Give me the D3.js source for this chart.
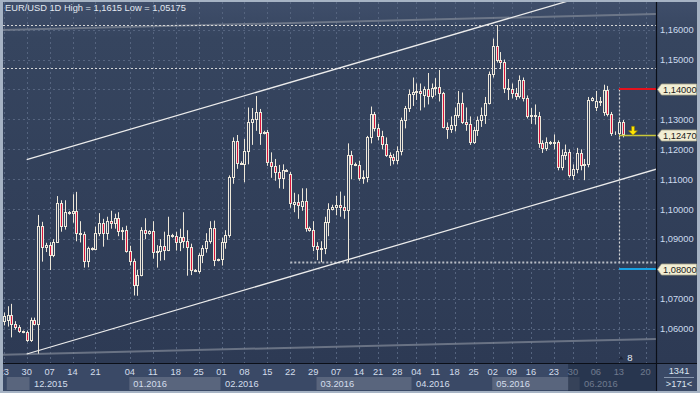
<!DOCTYPE html>
<html><head><meta charset="utf-8">
<script src="https://cdn.jsdelivr.net/npm/d3@7"></script>
<style>html,body{margin:0;padding:0;background:#a6b3c4;}svg{display:block;font-family:"Liberation Sans",Arial,sans-serif;}</style>
</head><body><svg id="c" width="700" height="393"></svg>
<script>
// ---- data (one entry per daily candle, 23.11.2015 .. 14.06.2016) ----
const opens = [
1.0626,1.0630,1.0647,1.0618,1.0607,1.0592,1.0589,1.0564,1.0630,1.0616,
1.0945,1.0873,1.0882,1.0846,1.0892,1.1020,1.0945,1.0990,1.0986,1.0995,
1.0922,1.0916,1.0827,1.0870,1.0866,1.0920,1.0953,1.0920,1.0962,1.0955,
1.0970,1.0928,1.0932,1.0862,1.0828,1.0748,1.0780,1.0932,1.0922,1.0926,
1.0856,1.0860,1.0876,1.0865,1.0915,1.0910,1.0890,1.0908,1.0893,1.0875,
1.0797,1.0795,1.0847,1.0869,1.0894,1.0938,1.0832,1.0833,1.0890,1.0915,
1.1108,1.1228,1.1155,1.1152,1.1195,1.1290,1.1300,1.1325,1.1255,1.1258,
1.1157,1.1145,1.1125,1.1103,1.1130,1.1117,1.1018,1.1025,1.1012,1.1028,
1.0937,1.0930,1.0877,1.0866,1.0869,1.0958,1.1000,1.1008,1.1013,1.1008,
1.0996,1.1180,1.1152,1.1148,1.1103,1.1109,1.1240,1.1318,1.1272,1.1243,
1.1218,1.1180,1.1176,1.1166,1.1196,1.1298,1.1338,1.1385,1.1390,1.1396,
1.1383,1.1400,1.1378,1.1405,1.1408,1.1388,1.1275,1.1268,1.1282,1.1315,
1.1355,1.1290,1.1285,1.1223,1.1265,1.1298,1.1316,1.1355,1.1452,1.1544,
1.1500,1.1492,1.1405,1.1402,1.1387,1.1378,1.1430,1.1372,1.1310,1.1315,
1.1310,1.1220,1.1204,1.1225,1.1220,1.1223,1.1140,1.1180,1.1192,1.1115,
1.1133,1.1188,1.1148,1.1152,1.1366,1.1340,1.1360,1.1325,1.1398,1.1318,
1.1253,1.1255,1.1292];
const highs = [
1.0655,1.0676,1.0684,1.0626,1.0613,1.0595,1.0595,1.0638,1.0638,1.0981,
1.0958,1.0888,1.0890,1.0900,1.1044,1.1030,1.1030,1.0994,1.1050,1.1058,
1.0960,1.0925,1.0875,1.0873,1.0942,1.0987,1.0968,1.0975,1.0995,1.0985,
1.0990,1.0940,1.0945,1.0878,1.0835,1.0798,1.0940,1.0970,1.0930,1.0960,
1.0880,1.0900,1.0925,1.0975,1.0918,1.0925,1.0935,1.0990,1.0930,1.0885,
1.0800,1.0853,1.0880,1.0920,1.0960,1.0962,1.0835,1.0905,1.0930,1.1113,
1.1240,1.1248,1.1160,1.1235,1.1340,1.1338,1.1378,1.1335,1.1262,1.1265,
1.1190,1.1168,1.1148,1.1150,1.1134,1.1125,1.1055,1.1050,1.1070,1.1070,
1.0942,1.0960,1.0890,1.0893,1.0975,1.1020,1.1015,1.1045,1.1059,1.1045,
1.1220,1.1195,1.1156,1.1162,1.1130,1.1245,1.1343,1.1325,1.1285,1.1262,
1.1240,1.1190,1.1185,1.1210,1.1306,1.1345,1.1400,1.1440,1.1420,1.1420,
1.1410,1.1455,1.1420,1.1438,1.1465,1.1392,1.1290,1.1310,1.1340,1.1395,
1.1390,1.1340,1.1310,1.1275,1.1310,1.1340,1.1375,1.1460,1.1570,1.1615,
1.1525,1.1500,1.1435,1.1420,1.1405,1.1447,1.1440,1.1380,1.1338,1.1350,
1.1325,1.1230,1.1240,1.1228,1.1250,1.1230,1.1200,1.1216,1.1200,1.1150,
1.1205,1.1200,1.1168,1.1375,1.1375,1.1395,1.1375,1.1416,1.1412,1.1325,
1.1260,1.1298,1.1298];
const lows = [
1.0612,1.0608,1.0572,1.0598,1.0587,1.0586,1.0557,1.0557,1.0612,1.05175,
1.0825,1.0857,1.0797,1.0840,1.0888,1.0925,1.0932,1.0982,1.0955,1.0893,
1.0889,1.0805,1.0806,1.0862,1.0863,1.0910,1.0875,1.0898,1.0935,1.0935,
1.0910,1.0897,1.0855,1.0812,1.0712,1.0711,1.0776,1.0900,1.0915,1.0835,
1.0805,1.0828,1.0830,1.0860,1.0905,1.0862,1.0860,1.0870,1.0778,1.0780,
1.0790,1.0785,1.0820,1.0855,1.0885,1.0810,1.0826,1.0812,1.0868,1.0905,
1.1085,1.1135,1.1148,1.1090,1.1150,1.1215,1.1262,1.1215,1.1250,1.1145,
1.1105,1.1095,1.1070,1.1068,1.1125,1.1005,1.0990,1.0968,1.0995,1.0925,
1.0925,1.0860,1.0830,1.0823,1.0850,1.0910,1.0996,1.0980,1.0975,1.0968,
1.0822,1.1100,1.1144,1.1095,1.1085,1.1090,1.1220,1.1260,1.1230,1.1200,
1.1175,1.1145,1.1150,1.1150,1.1180,1.1270,1.1325,1.1345,1.1365,1.1330,
1.1340,1.1350,1.1370,1.1380,1.1360,1.1270,1.1235,1.1255,1.1260,1.1305,
1.1285,1.1262,1.1215,1.1218,1.1245,1.1275,1.1285,1.1350,1.1440,1.1490,
1.1468,1.1388,1.1365,1.1370,1.1365,1.1370,1.1360,1.1303,1.1285,1.1283,
1.1205,1.1188,1.1195,1.1215,1.1200,1.1130,1.1130,1.1165,1.1106,1.1098,
1.1120,1.1130,1.1097,1.1140,1.1360,1.1328,1.1345,1.1312,1.1310,1.1245,
1.1248,1.1240,1.1240];
const closes = [
1.0643,1.0647,1.0618,1.0607,1.0593,1.0589,1.0564,1.0630,1.0616,1.0945,
1.0873,1.0882,1.0846,1.0892,1.1020,1.0945,1.0990,1.0986,1.0995,1.0922,
1.0916,1.0827,1.0870,1.0866,1.0920,1.0953,1.0920,1.0962,1.0955,1.0970,
1.0928,1.0932,1.0862,1.0828,1.0748,1.0780,1.0932,1.0922,1.0926,1.0856,
1.0860,1.0876,1.0865,1.0915,1.0910,1.0890,1.0908,1.0893,1.0875,1.0797,
1.0795,1.0847,1.0869,1.0894,1.0938,1.0832,1.0833,1.0890,1.0915,1.1108,
1.1228,1.1155,1.1152,1.1195,1.1290,1.1300,1.1325,1.1255,1.1258,1.1157,
1.1145,1.1125,1.1103,1.1130,1.1128,1.1020,1.1025,1.1014,1.1028,1.0937,
1.0930,1.0877,1.0866,1.0869,1.0958,1.1000,1.1008,1.1013,1.1008,1.0996,
1.1180,1.1152,1.1148,1.1106,1.1109,1.1240,1.1318,1.1272,1.1243,1.1218,
1.1180,1.1176,1.1166,1.1196,1.1298,1.1338,1.1385,1.1390,1.1396,1.1387,
1.1400,1.1378,1.1405,1.1408,1.1388,1.1275,1.1268,1.1282,1.1315,1.1355,
1.1290,1.1285,1.1223,1.1265,1.1298,1.1316,1.1355,1.1452,1.1544,1.1500,
1.1492,1.1405,1.1402,1.1387,1.1378,1.1430,1.1372,1.1310,1.1315,1.1310,
1.1220,1.1204,1.1225,1.1220,1.1223,1.1140,1.1180,1.1192,1.1115,1.1133,
1.1188,1.1148,1.1152,1.1366,1.1370,1.1360,1.1357,1.1398,1.1318,1.1253,
1.1255,1.1292,1.1252];

// axis ticks
const priceTicks = [1.06,1.07,1.08,1.09,1.10,1.11,1.12,1.13,1.14,1.15,1.16];
const dayLabels = ["23","30","07","14","21","04","11","18","25","01","08","15","22","29","07","14","21","28","04","11","18","25","02","09","16","23","30","06","13","20"];
const dayIndex  = [0,6,12,18,24,33,39,45,51,57,63,69,75,81,87,93,98,103,108,113,118,123,128,133,138,144,149,155,161,168];
const monthLabels = ["12.2015","01.2016","02.2016","03.2016","04.2016","05.2016","06.2016"];
const monthStart  = [7,33,57,82,107,128,151];

// drawn studies (index, price)
const channelUpper = [[6,1.11661],[171,1.17824]];
const channelLower = [[6,1.05165],[171,1.11347]];
const grayTop      = [[-1,1.15983],[171,1.16521]];
const grayBottom   = [[-1,1.05138],[171,1.05669]];
const dotHigh = 1.1615, dotMid = 1.1471, dotLow = 1.0823, dotLowFrom = 75;
const markerIndex = 161;
const levelResist = 1.14, levelPrice = 1.1247, levelSupport = 1.08;
const title = "EUR/USD 1D High = 1,1615 Low = 1,05175";
const barCount = "1341", barVisible = ">171<", markerLabel = "8";

// ---- drawing ----
const svg = d3.select("#c");
const P = {l:3, r:656, t:2, b:363};
const x = d3.scaleLinear().domain([0,162]).range([3.78, 622.62]);
const y = d3.scaleLinear().domain([1.06,1.16]).range([329, 29.6]);
const fmt5 = v => d3.format(".5f")(v).replace(".", ",");

const defs = svg.append("defs");
const g1 = defs.append("linearGradient").attr("id","bg").attr("gradientUnits","userSpaceOnUse")
  .attr("x1",0).attr("y1",P.t).attr("x2",0).attr("y2",P.b);
g1.append("stop").attr("offset","0").attr("stop-color","#3f4e6a");
g1.append("stop").attr("offset","0.1").attr("stop-color","#36455f");
g1.append("stop").attr("offset","1").attr("stop-color","#2d3a54");
defs.append("clipPath").attr("id","plotclip").append("rect")
  .attr("x",P.l).attr("y",P.t).attr("width",P.r-P.l).attr("height",P.b-P.t);
defs.append("clipPath").attr("id","axclip").append("rect")
  .attr("x",P.l).attr("y",P.b).attr("width",P.r-P.l).attr("height",30);

svg.append("rect").attr("width",700).attr("height",393).attr("fill","#a6b3c4");
svg.append("rect").attr("x",P.l).attr("y",P.t).attr("width",697-P.l).attr("height",P.b-P.t).attr("fill","url(#bg)");
svg.append("rect").attr("x",P.l).attr("y",P.b).attr("width",697-P.l).attr("height",391-P.b).attr("fill","#3a4966");

const plot = svg.append("g").attr("clip-path","url(#plotclip)");
// grid
plot.selectAll("line.hg").data(priceTicks).join("line")
  .attr("x1",P.l).attr("x2",P.r).attr("y1",d=>Math.round(y(d))+0.5).attr("y2",d=>Math.round(y(d))+0.5)
  .attr("stroke","#55647f").attr("stroke-dasharray","2,3");
plot.selectAll("line.vg").data(dayIndex).join("line")
  .attr("x1",d=>Math.round(x(d))+0.5).attr("x2",d=>Math.round(x(d))+0.5).attr("y1",P.t).attr("y2",P.b)
  .attr("stroke","#55647f").attr("stroke-dasharray","2,3");

const ln = d3.line().x(d=>x(d[0])).y(d=>y(d[1]));
plot.append("path").attr("d",ln(grayTop)).attr("stroke","#7d8594").attr("stroke-opacity",0.75).attr("stroke-width",2).attr("fill","none");
plot.append("path").attr("d",ln(grayBottom)).attr("stroke","#7d8594").attr("stroke-opacity",0.75).attr("stroke-width",2).attr("fill","none");

// dotted levels
const dot = (x1,x2,y1,y2) => plot.append("line").attr("x1",x1).attr("x2",x2).attr("y1",y1).attr("y2",y2)
  .attr("stroke","#d6d6d6").attr("stroke-width",1.2).attr("stroke-dasharray","2,2");
dot(P.l,P.r,Math.round(y(dotHigh))+0.5,Math.round(y(dotHigh))+0.5);
dot(P.l,P.r,Math.round(y(dotMid))+0.5,Math.round(y(dotMid))+0.5);
dot(x(dotLowFrom),P.r,Math.round(y(dotLow))+0.5,Math.round(y(dotLow))+0.5).attr("stroke-width",2).attr("stroke","#b8bcc4");
dot(Math.round(x(markerIndex))+0.5,Math.round(x(markerIndex))+0.5,y(levelResist),y(dotLow));

plot.append("path").attr("d",ln(channelUpper)).attr("stroke","#ececec").attr("stroke-width",1.3).attr("fill","none");
plot.append("path").attr("d",ln(channelLower)).attr("stroke","#ececec").attr("stroke-width",1.3).attr("fill","none");

// candles
const idx = d3.range(opens.length);
const cg = plot.append("g");
cg.selectAll("line.w").data(idx).join("line")
  .attr("x1",i=>Math.round(x(i))+0.5).attr("x2",i=>Math.round(x(i))+0.5)
  .attr("y1",i=>y(highs[i])).attr("y2",i=>y(lows[i]))
  .attr("stroke","#ede7d9").attr("stroke-width",1);
cg.selectAll("rect.b").data(idx).join("rect")
  .attr("x",i=>Math.round(x(i))-0.5).attr("width",2)
  .attr("y",i=>Math.round(y(Math.max(opens[i],closes[i])))+0.5)
  .attr("height",i=>Math.max(0,Math.round(y(Math.min(opens[i],closes[i])))-Math.round(y(Math.max(opens[i],closes[i])))))
  .attr("fill",i=>closes[i]<opens[i]?"#d8143c":"#34425e")
  .attr("stroke","#ede7d9").attr("stroke-width",1);

// level lines
const lx1 = Math.round(x(markerIndex));
plot.append("line").attr("x1",lx1).attr("x2",P.r).attr("y1",Math.round(y(levelResist))).attr("y2",Math.round(y(levelResist))).attr("stroke","#e4121e").attr("stroke-width",2);
plot.append("line").attr("x1",lx1).attr("x2",P.r).attr("y1",Math.round(y(levelPrice))+0.5).attr("y2",Math.round(y(levelPrice))+0.5).attr("stroke","#c9c83a").attr("stroke-width",1.5);
plot.append("line").attr("x1",lx1).attr("x2",P.r).attr("y1",Math.round(y(levelSupport))).attr("y2",Math.round(y(levelSupport))).attr("stroke","#1aa2e2").attr("stroke-width",2);
// down arrow
const ay = y(levelPrice), ax = lx1 + 14;
plot.append("path")
  .attr("d",`M${ax-1.5},${ay-9} h3 v4.5 h3 l-4.5,4.5 l-4.5,-4.5 h3 z`)
  .attr("fill","#ffe400").attr("stroke","#8a7a00").attr("stroke-width",0.6);

// marker bottom
plot.append("path").attr("d",`M${lx1+2},${P.b-7} l2.5,3.5 h-5 z`).attr("fill","#1c2438");
plot.append("text").attr("x",lx1+11).attr("y",P.b-2).attr("text-anchor","middle").attr("fill","#e8eef6").attr("font-size",9.5).text(markerLabel);

// separators
svg.append("line").attr("x1",P.l).attr("x2",697).attr("y1",P.b+0.5).attr("y2",P.b+0.5).attr("stroke","#0b0f18").attr("stroke-width",1.2);
svg.append("line").attr("x1",P.r+0.5).attr("x2",P.r+0.5).attr("y1",P.t).attr("y2",391).attr("stroke","#0b0f18").attr("stroke-width",1.2);

// y labels (levels that carry a tag show only the tag)
const tags = [levelResist, levelPrice, levelSupport];
const plainTicks = priceTicks.filter(v => !tags.some(t => Math.abs(t - v) < 1e-9));
svg.selectAll("text.yl").data(plainTicks).join("text")
  .attr("x",660).attr("y",d=>y(d)+3.3).attr("fill","#cddbee").attr("font-size",9.3).text(d=>fmt5(d));
// tags
const tg = svg.selectAll("g.tag").data(tags).join("g").attr("transform",d=>`translate(0,${Math.round(y(d))+0.5})`);
tg.append("path").attr("d","M657.5,0 L661.5,-5.5 H696.5 V5.5 H661.5 Z").attr("fill","#f2eed4").attr("stroke","#a8a48c").attr("stroke-width",0.8);
tg.append("text").attr("x",663).attr("y",3.3).attr("fill","#1a1a1a").attr("font-size",9.3).text(d=>fmt5(d));

// x axis
const ax2 = svg.append("g").attr("clip-path","url(#axclip)");
const bounds = monthStart.map(m=>x(m));
const lightBoxes = [[x(0)+3, bounds[0]-1]];
for (let k=1;k<monthStart.length;k+=2){ lightBoxes.push([bounds[k]-0.5, (k+1<bounds.length?bounds[k+1]:P.r)-1]); }
ax2.selectAll("rect.mb").data(lightBoxes).join("rect")
  .attr("x",d=>d[0]).attr("width",d=>d[1]-d[0]).attr("y",377).attr("height",13).attr("fill","#59657d");
ax2.selectAll("text.dl").data(dayIndex).join("text")
  .attr("x",d=>x(d)).attr("y",375).attr("text-anchor","middle").attr("fill","#d4deec").attr("font-size",9.3)
  .text((d,i)=>dayLabels[i]);
ax2.selectAll("text.ml").data(monthStart).join("text")
  .attr("x",d=>x(d)+3.5).attr("y",387).attr("fill","#d4deec").attr("font-size",9.3)
  .text((d,i)=>monthLabels[i]);
ax2.append("rect").attr("x",x(148)-1).attr("y",P.b+1).attr("width",P.r-x(148)+1).attr("height",27).attr("fill","#1a263d").attr("opacity",0.55);

// bottom right box
svg.append("text").attr("x",679).attr("y",374).attr("text-anchor","middle").attr("fill","#dde6f0").attr("font-size",9.3).text(barCount);
svg.append("line").attr("x1",664).attr("x2",694).attr("y1",377.5).attr("y2",377.5).attr("stroke","#8897ae");
svg.append("text").attr("x",679).attr("y",387).attr("text-anchor","middle").attr("fill","#dde6f0").attr("font-size",9.3).text(barVisible);

// title
svg.append("text").attr("x",5).attr("y",11).attr("fill","#e2e8f0").attr("font-size",9.3).text(title);
</script></body></html>
